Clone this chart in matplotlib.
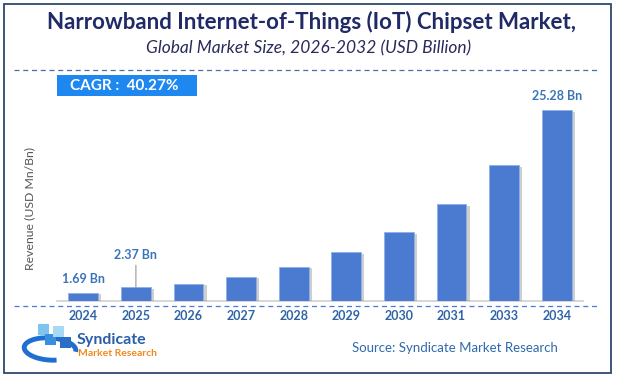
import numpy as np
import matplotlib
matplotlib.use("Agg")
import matplotlib.pyplot as plt
import matplotlib.patheffects as pe
from matplotlib.patches import Rectangle, Arc

W, H = 617, 380

years = ["2024", "2025", "2026", "2027", "2028", "2029", "2030", "2031", "2033", "2034"]
revenue = [1.69, 2.37, 2.85, 3.76, 5.05, 6.91, 9.49, 13.1, 18.14, 25.28]
labels = {0: "1.69 Bn", 1: "2.37 Bn", 9: "25.28 Bn"}

BAR = "#4a7bd0"
NAVY = "#1f2a66"
TICK = "#2f63a6"
LABEL = "#3a74b8"

plt.rcParams['font.family'] = ['Lato', 'DejaVu Sans']


def fx(px):
    return px / W


def fy(py):
    return 1 - py / H


fig = plt.figure(figsize=(W / 100, H / 100), dpi=100)

# axes placed in pixel terms: x 57..583, baseline at y=301
ax = fig.add_axes([fx(57), fy(301), fx(583) - fx(57), fy(95) - fy(301)])
bars = ax.bar(range(len(years)), revenue, width=0.57, color=BAR,
              edgecolor="#8fb0e6", linewidth=0.6, zorder=3)
for b in bars:
    b.set_path_effects([pe.SimplePatchShadow(offset=(2.2, -1.2),
                                             shadow_rgbFace="#888888",
                                             alpha=0.4),
                        pe.Normal()])
ax.set_xlim(-0.5, len(years) - 0.5)
ax.set_ylim(0.62, 27.2)
ax.set_yticks([])
ax.set_xticks([])
for s in ["top", "right", "left"]:
    ax.spines[s].set_visible(False)
ax.spines["bottom"].set_color("#d0d0d0")
ax.spines["bottom"].set_linewidth(1.2)

# data labels
for i, txt in labels.items():
    if i == 1:
        ax.annotate(txt, xy=(i, revenue[i]), xytext=(i, revenue[i] + 3.4),
                    ha="center", va="bottom", fontsize=9, fontweight="bold",
                    color=LABEL,
                    arrowprops=dict(arrowstyle="-", color="#999999", lw=0.8,
                                    shrinkA=1, shrinkB=0))
    else:
        ax.text(i, revenue[i] + 1.0, txt, ha="center", va="bottom",
                fontsize=9, fontweight="bold", color=LABEL)

# year labels below the dashed line
for i, y in enumerate(years):
    xpx = 57 + (i + 0.5) * (583 - 57) / len(years)
    fig.text(fx(xpx), fy(316), y, ha="center", va="center", fontsize=9,
             fontweight="bold", color=TICK)

# titles
fig.text(fx(312), fy(22), "Narrowband Internet-of-Things (IoT) Chipset Market,",
         ha="center", va="center", fontsize=16, fontweight="bold", color=NAVY)
fig.text(fx(309), fy(48), "Global Market Size, 2026-2032 (USD Billion)",
         ha="center", va="center", fontsize=12.5, style="italic", color="#2a2a5a")

# dashed separators
fig.add_artist(plt.Line2D([fx(14), fx(598)], [fy(70), fy(70)], color="#4a6ea8",
                          lw=0.9, ls=(0, (4, 3))))
fig.add_artist(plt.Line2D([fx(14), fx(598)], [fy(306), fy(306)], color="#4a7bd0",
                          lw=0.9, ls=(0, (4, 3))))

# CAGR box
fig.add_artist(Rectangle((fx(57), fy(96)), fx(197) - fx(57), fy(75) - fy(96),
                         transform=fig.transFigure, color="#1e88f0", lw=0))
fig.text(fx(124), fy(85.5), "CAGR :  40.27%", ha="center", va="center",
         fontsize=11, fontweight="bold", color="white")

# y label
fig.text(fx(30), fy(208), "Revenue (USD Mn/Bn)", rotation=90, ha="center",
         va="center", fontsize=8.8, color="#555555")

# source
fig.text(fx(455), fy(348), "Source: Syndicate Market Research", ha="center",
         va="center", fontsize=9.5, color="#2e6aad")

# logo (rough)
fig.add_artist(Arc((fx(50), fy(349)), fx(52), fy(334) - fy(356), angle=-10,
                   theta1=0, theta2=300, transform=fig.transFigure,
                   color="#1f6fd0", lw=3.5))
for xx, yy, cc in [(38, 324, "#7fc4f0"), (45, 334, "#3a8ee0"),
                   (53, 326, "#a8d8f5"), (60, 337, "#2a6ec8")]:
    fig.add_artist(Rectangle((fx(xx), fy(yy + 11)), fx(11), fy(0) - fy(11),
                             transform=fig.transFigure, color=cc, lw=0))
fig.text(fx(77), fy(340), "Syndicate", ha="left", va="center", fontsize=11.5,
         fontweight="bold", color="#2a5ea8")
fig.text(fx(78), fy(353), "Market Research", ha="left", va="center",
         fontsize=7.5, fontweight="bold", color="#f08a1c")

# outer border
fig.add_artist(Rectangle((fx(3.5), fy(372.5)), fx(610.5) - fx(3.5),
                         fy(4) - fy(372.5), transform=fig.transFigure,
                         fill=False, edgecolor="#2e4a6e", lw=1.3))

fig.savefig("out.png", dpi=100)
